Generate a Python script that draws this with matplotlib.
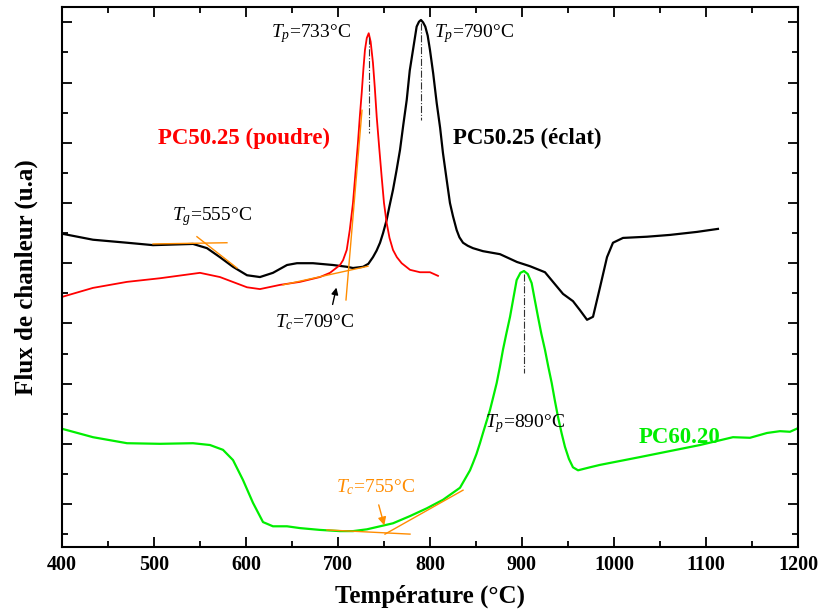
import numpy as np
import matplotlib
matplotlib.use('Agg')
import matplotlib.pyplot as plt
from matplotlib.ticker import MultipleLocator

'''data read off the DSC curves (temperature in C, heat flow in a.u.)'''
t_eclat = [400, 433.7, 470.7, 498.9, 542.4, 557.6, 571.7, 585.9, 601.1, 615.2, 629.3, 644.6,
           655.4, 672.8, 694.6, 709.8, 716.3, 727.2, 733, 738, 742, 745.7, 749, 752.9,
           756, 759.8, 763.5, 767.4, 771, 774.7, 778, 781.5, 785.5, 788, 790.2, 792.5,
           794.9, 797.5, 800, 803.5, 807.3, 811, 814.1, 818, 821.7, 825, 829, 832,
           835.9, 841, 846.7, 857.6, 876.1, 894.6, 908.7, 925, 933.7, 944.6, 955.4, 963,
           970.7, 977.2, 984.8, 992.4, 998.9, 1009.8, 1035.9, 1060.9, 1090.2, 1113]
f_eclat = [4.49, 4.39, 4.34, 4.30, 4.32, 4.25, 4.10, 3.94, 3.80, 3.77, 3.84, 3.97,
           4.00, 4.00, 3.97, 3.94, 3.92, 3.94, 3.99, 4.10, 4.21, 4.34, 4.50, 4.72,
           4.95, 5.22, 5.53, 5.88, 6.30, 6.71, 7.20, 7.54, 7.93, 8.01, 8.04, 8.00,
           7.93, 7.78, 7.54, 7.15, 6.66, 6.25, 5.83, 5.40, 5.00, 4.78, 4.55, 4.43,
           4.34, 4.29, 4.25, 4.20, 4.15, 4.02, 3.95, 3.85, 3.69, 3.49, 3.37, 3.22,
           3.06, 3.11, 3.60, 4.10, 4.34, 4.42, 4.44, 4.47, 4.52, 4.57]

t_poudre = [400, 433.7, 470.7, 506.5, 550, 571.7, 601.1, 615.2, 637, 658.7, 680.4, 691.3,
            702.2, 705.5, 709.5, 712.8, 716.3, 719, 721.7, 723.8, 725.8, 727.6, 729.3, 731.3,
            733.4, 735.5, 738, 740, 742.1, 744.8, 747.5, 750, 752.9, 756, 759.8, 764,
            769.2, 778.3, 789.1, 800, 808.7]
f_poudre = [3.44, 3.59, 3.69, 3.75, 3.84, 3.77, 3.60, 3.57, 3.64, 3.69, 3.77, 3.84,
            3.97, 4.05, 4.22, 4.55, 5.00, 5.50, 6.00, 6.45, 6.83, 7.22, 7.54, 7.74,
            7.82, 7.68, 7.33, 6.92, 6.43, 5.92, 5.43, 5.00, 4.67, 4.42, 4.22, 4.10,
            4.00, 3.89, 3.85, 3.85, 3.79]

t_pc60 = [400, 433.7, 470.7, 506.5, 542.4, 560.9, 575, 585.9, 596.7, 607.6, 618.5, 629.3,
          644.6, 658.7, 680.4, 702.2, 716.3, 731.5, 745.7, 759.8, 778.3, 796.7, 814.1, 832.6,
          843.5, 846.7, 850.5, 854.3, 857.6, 865.2, 868.8, 872.5, 876, 879.3, 883, 887,
          891, 894.2, 898.3, 902.2, 906.3, 910.5, 913.8, 917.4, 921, 925, 928.6, 932.3,
          935.7, 939.1, 943, 946.7, 951, 955.4, 960.9, 973.9, 984.8, 1028.3, 1093.5, 1129.3,
          1147.8, 1166.3, 1180.4, 1191.3, 1200]
f_pc60 = [1.25, 1.11, 1.01, 1.00, 1.01, 0.98, 0.90, 0.73, 0.40, 0.02, -0.30, -0.37,
          -0.37, -0.40, -0.43, -0.45, -0.45, -0.42, -0.37, -0.32, -0.20, -0.07, 0.07, 0.27,
          0.56, 0.68, 0.83, 1.01, 1.18, 1.56, 1.78, 2.01, 2.28, 2.56, 2.83, 3.11,
          3.45, 3.72, 3.84, 3.87, 3.82, 3.67, 3.40, 3.11, 2.83, 2.56, 2.28, 2.01,
          1.72, 1.45, 1.18, 0.95, 0.75, 0.61, 0.56, 0.61, 0.65, 0.78, 0.98, 1.11,
          1.10, 1.18, 1.21, 1.20, 1.26]

'''peak temperatures (x of dash-dot marker)'''
tp_x = [733.4, 790.2, 902.2]
tp_y = [(7.76, 6.16), (7.99, 6.38), (3.82, 2.18)]

'''fonts'''
plt.rcParams['font.family'] = ['Liberation Serif', 'DejaVu Serif']
plt.rcParams['mathtext.fontset'] = 'custom'
plt.rcParams['mathtext.rm'] = 'Liberation Serif'
plt.rcParams['mathtext.it'] = 'Liberation Serif:italic'
plt.rcParams['mathtext.bf'] = 'Liberation Serif:bold'

orange = '#ff8c00'
green = '#00ee00'

fig = plt.figure(figsize=(8.22, 6.12), dpi=100)
ax = fig.add_axes([0.0754, 0.1062, 0.8954, 0.8824])

ax.plot(t_eclat, f_eclat, color='black', lw=1.6)
ax.plot(t_poudre, f_poudre, color='red', lw=1.3)
ax.plot(t_pc60, f_pc60, color=green, lw=1.6)

'''tangent constructions'''
ax.plot([498.9, 579.3], [4.32, 4.34], color=orange, lw=1)
ax.plot([546.7, 590.2], [4.44, 3.92], color=orange, lw=1)
ax.plot([640.2, 732.6], [3.64, 3.95], color=orange, lw=1)
ax.plot([726.1, 708.7], [6.54, 3.39], color=orange, lw=1)
ax.plot([688, 778.3], [-0.43, -0.50], color=orange, lw=1)
ax.plot([751.1, 835.9], [-0.50, 0.23], color=orange, lw=1)

for x, (y0, y1) in zip(tp_x, tp_y):
    ax.plot([x, x], [y0, y1], color='#333333', lw=0.8, ls='-.')

ax.annotate('', xy=(698.9, 3.64), xytext=(693.5, 3.27),
            arrowprops=dict(arrowstyle='-|>', color='black', lw=1, mutation_scale=10))
ax.annotate('', xy=(751.1, -0.40), xytext=(743.5, 0.03),
            arrowprops=dict(arrowstyle='-|>', color=orange, lw=1, mutation_scale=12))

'''text'''
fs = 14
ax.text(563, 4.78, r'$T_g$=555°C', ha='center', va='center', fontsize=fs)
ax.text(675, 3.02, r'$T_c$=709°C', ha='center', va='center', fontsize=fs)
ax.text(670.7, 7.82, r'$T_p$=733°C', ha='center', va='center', fontsize=fs)
ax.text(847.8, 7.82, r'$T_p$=790°C', ha='center', va='center', fontsize=fs)
ax.text(903, 1.33, r'$T_p$=890°C', ha='center', va='center', fontsize=fs)
ax.text(741.3, 0.28, r'$T_c$=755°C', ha='center', va='center', fontsize=fs, color=orange)

ax.text(597.8, 6.08, 'PC50.25 (poudre)', ha='center', va='center', fontsize=16.5,
        weight='bold', color='red')
ax.text(905.4, 6.08, 'PC50.25 (éclat)', ha='center', va='center', fontsize=16.5,
        weight='bold', color='black')
ax.text(1071.7, 1.11, 'PC60.20', ha='center', va='center', fontsize=16.5,
        weight='bold', color=green)

'''axes'''
ax.set_xlim(400, 1200)
ax.set_ylim(-0.714, 8.256)
ax.xaxis.set_major_locator(MultipleLocator(100))
ax.xaxis.set_minor_locator(MultipleLocator(50))
ax.yaxis.set_major_locator(MultipleLocator(1))
ax.yaxis.set_minor_locator(MultipleLocator(0.5))
ax.tick_params(which='both', direction='in', top=True, right=True, width=1.3)
ax.tick_params(which='major', length=7)
ax.tick_params(which='minor', length=4)
ax.tick_params(axis='y', labelleft=False)
ax.tick_params(axis='x', labelsize=14.5, pad=6)
for lab in ax.get_xticklabels():
    lab.set_fontweight('bold')
for s in ax.spines.values():
    s.set_linewidth(1.5)

ax.set_xlabel('Température (°C)', fontsize=18, weight='bold', labelpad=7)
ax.set_ylabel('Flux de chanleur (u.a)', fontsize=18, weight='bold', labelpad=14)

plt.savefig('out.png', dpi=100)
